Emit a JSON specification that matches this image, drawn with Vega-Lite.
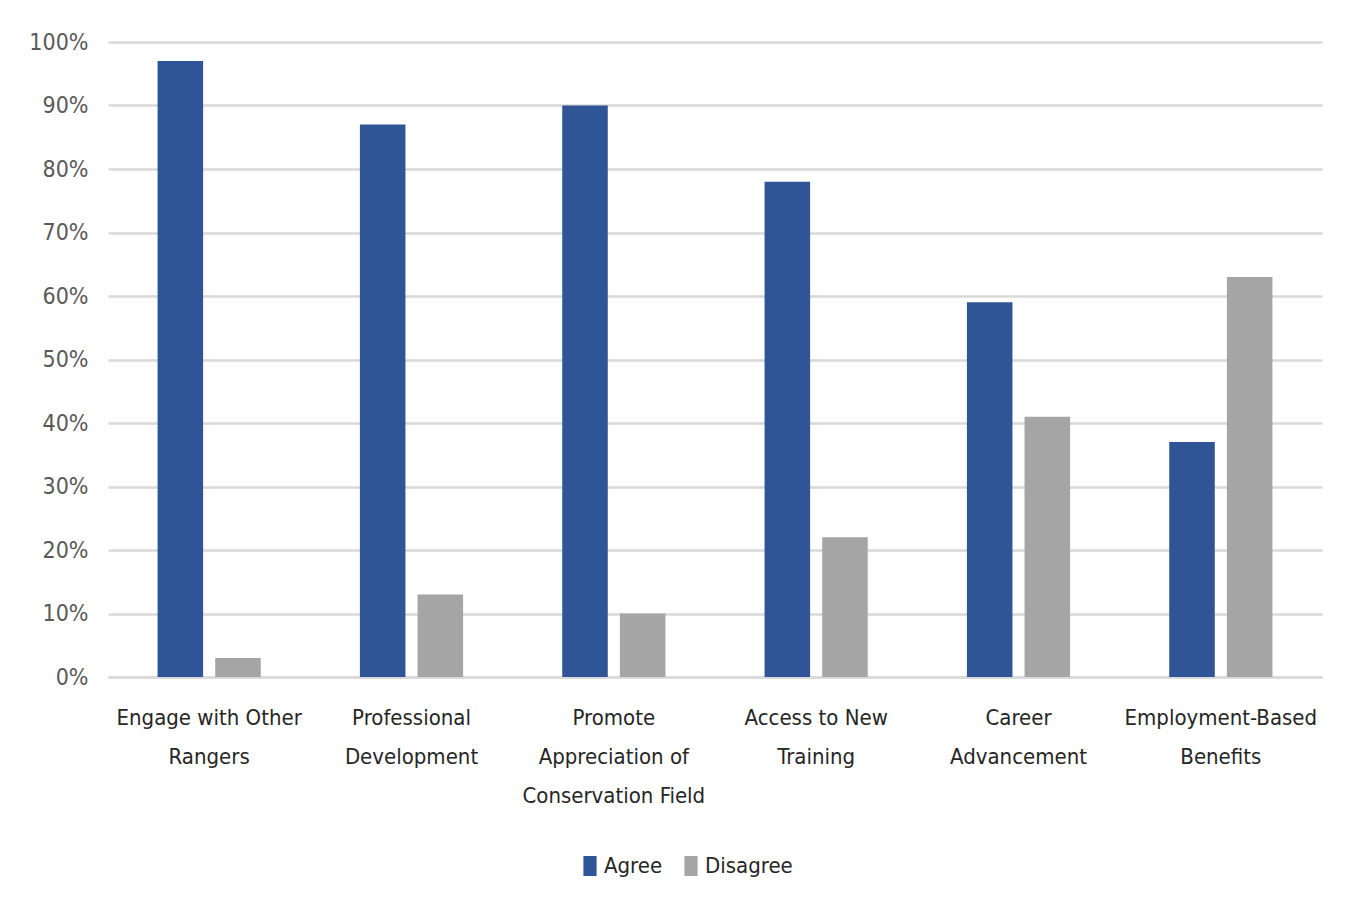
{
  "$schema": "https://vega.github.io/schema/vega-lite/v6.json",
  "width": 1214,
  "height": 635,
  "autosize": "none",
  "padding": {"left": 108, "top": 42, "right": 26, "bottom": 234},
  "background": "white",
  "data": {
    "values": [
      {"topic": "Engage with Other|Rangers", "response": "Agree", "share": 0.97},
      {"topic": "Engage with Other|Rangers", "response": "Disagree", "share": 0.03},
      {"topic": "Professional|Development", "response": "Agree", "share": 0.87},
      {"topic": "Professional|Development", "response": "Disagree", "share": 0.13},
      {"topic": "Promote|Appreciation of|Conservation Field", "response": "Agree", "share": 0.90},
      {"topic": "Promote|Appreciation of|Conservation Field", "response": "Disagree", "share": 0.10},
      {"topic": "Access to New|Training", "response": "Agree", "share": 0.78},
      {"topic": "Access to New|Training", "response": "Disagree", "share": 0.22},
      {"topic": "Career|Advancement", "response": "Agree", "share": 0.59},
      {"topic": "Career|Advancement", "response": "Disagree", "share": 0.41},
      {"topic": "Employment-Based|Benefits", "response": "Agree", "share": 0.37},
      {"topic": "Employment-Based|Benefits", "response": "Disagree", "share": 0.63}
    ]
  },
  "mark": {"type": "bar"},
  "encoding": {
    "x": {
      "field": "topic",
      "type": "nominal",
      "sort": null,
      "scale": {"paddingInner": 0.49, "paddingOuter": 0.245},
      "axis": {
        "title": null,
        "labelAngle": 0,
        "labelExpr": "split(datum.label, '|')",
        "labelFontSize": 22,
        "labelLineHeight": 39,
        "labelColor": "#262626",
        "labelPadding": 30,
        "labelLimit": 400,
        "ticks": false,
        "domain": true,
        "domainColor": "#D9D9D9",
        "domainWidth": 2.5,
        "grid": false
      }
    },
    "xOffset": {
      "field": "response",
      "type": "nominal",
      "scale": {"paddingInner": 0.21, "paddingOuter": 0}
    },
    "y": {
      "field": "share",
      "type": "quantitative",
      "scale": {"domain": [0, 1], "nice": false},
      "axis": {
        "title": null,
        "format": ".0%",
        "values": [0, 0.1, 0.2, 0.3, 0.4, 0.5, 0.6, 0.7, 0.8, 0.9, 1.0],
        "labelFontSize": 23,
        "labelColor": "#595959",
        "labelPadding": 20,
        "ticks": false,
        "domain": false,
        "grid": true,
        "gridColor": "#D9D9D9",
        "gridWidth": 2.5
      }
    },
    "color": {
      "field": "response",
      "type": "nominal",
      "scale": {"domain": ["Agree", "Disagree"], "range": ["#2F5597", "#A5A5A5"]},
      "legend": {
        "title": null,
        "orient": "none",
        "direction": "horizontal",
        "legendX": 471,
        "legendY": 813,
        "symbolType": "M-0.66,-1H0.66V1H-0.66Z",
        "symbolSize": 400,
        "symbolStrokeWidth": 0,
        "labelFontSize": 22,
        "labelColor": "#262626",
        "labelOffset": 3,
        "columnPadding": 17
      }
    }
  },
  "config": {
    "font": "Liberation Sans Narrow, DejaVu Sans Condensed, Roboto Condensed, sans-serif",
    "view": {"stroke": null}
  }
}
